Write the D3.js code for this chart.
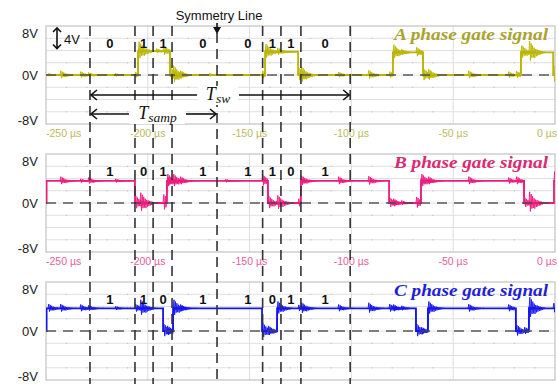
<!DOCTYPE html>
<html><head><meta charset="utf-8">
<script src="https://cdn.jsdelivr.net/npm/d3@7"></script>
<style>body{margin:0;background:#fff}svg{display:block}</style>
</head><body>
<svg id="chart" width="558" height="384"></svg>
<script>
// Time axis (µs) and voltage axis
const tickValues = [-250, -200, -150, -100, -50, 0];
const tickLabels = ["-250 µs", "-200 µs", "-150 µs", "-100 µs", "-50 µs", "0 µs"];
const voltValues = [8, 0, -8];
const voltLabels = ["8V", "0V", "-8V"];
const phaseNames = ["A phase gate signal", "B phase gate signal", "C phase gate signal"];

// Gate signal levels: [time µs, level V] at each change
const stepsA = [[-250, 0], [-204.8, 3.9], [-189.1, 0], [-142.4, 3.8], [-126.2, 0], [-79.6, 3.7], [-64.8, 0], [-16.7, 3.7], [-0.9, 0]];
const stepsB = [[-250, 0], [-249.7, 3.6], [-206.3, 0], [-190.6, 3.6], [-141.0, 0], [-124.8, 3.6], [-81.5, 0], [-65.8, 3.6], [-15.2, 0], [-0.5, 3.6]];
const stepsC = [[-250, 0], [-249.7, 3.7], [-192.5, 0], [-187.6, 3.7], [-143.9, 0], [-136.5, 3.7], [-68.3, 0], [-62.4, 3.7], [-19.2, 0], [-12.8, 3.7]];

// Switching noise bursts: [time µs, amplitude V]
const burstsA = [[-249.0, 0.4], [-243.1, 1.0], [-233.3, 0.8], [-229.4, 0.6], [-216.1, 0.4], [-206.3, 0.7], [-204.6, 2.2], [-196.0, 0.6], [-192.5, 1.2], [-189.0, 1.6], [-187.6, 2.2], [-184.2, 1.0],
  [-170.0, 0.4], [-143.9, 1.0], [-142.3, 1.8], [-136.5, 0.9], [-126.1, 1.6], [-124.8, 2.0], [-106.6, 0.7], [-91.8, 1.1], [-81.5, 0.8], [-79.5, 1.8], [-75.6, 0.7],
  [-68.3, 1.2], [-65.0, 1.6], [-62.4, 1.4], [-42.7, 1.0], [-23.1, 0.8], [-19.2, 0.9], [-16.6, 1.6], [-12.8, 2.6], [-0.9, 2.2]];
const burstsB = [[-243.1, 1.0], [-233.3, 0.5], [-229.4, 0.8], [-216.1, 0.5], [-206.2, 1.6], [-203.8, 2.4], [-192.5, 2.0], [-190.5, 1.6], [-187.6, 1.6], [-184.2, 1.0],
  [-162.0, 0.4], [-143.9, 1.4], [-140.9, 1.6], [-136.5, 1.8], [-126.2, 1.0], [-124.7, 1.2], [-106.6, 1.0], [-91.8, 1.1], [-81.4, 1.2], [-79.6, 1.0], [-75.6, 0.6],
  [-68.3, 1.4], [-65.7, 1.6], [-62.4, 1.0], [-42.7, 1.0], [-23.1, 0.8], [-19.2, 1.0], [-15.1, 1.2], [-12.8, 2.6], [-0.5, 2.2]];
const burstsC = [[-249.0, 1.0], [-243.1, 1.0], [-233.3, 0.9], [-229.4, 0.7], [-216.1, 0.5], [-206.3, 1.0], [-203.8, 2.0], [-192.4, 1.6], [-190.6, 1.2], [-187.5, 2.0], [-184.2, 0.9],
  [-143.8, 1.8], [-141.0, 1.2], [-136.4, 1.6], [-126.2, 0.8], [-124.8, 1.4], [-106.6, 0.9], [-91.8, 1.3], [-81.5, 1.0], [-79.6, 0.9], [-75.6, 0.6],
  [-68.2, 1.6], [-65.8, 0.9], [-62.3, 1.6], [-42.7, 1.0], [-23.1, 0.9], [-19.1, 1.4], [-15.2, 0.9], [-12.7, 2.6], [-0.9, 1.2]];

// Switching states within each sampling interval
const bitsA = [0, 1, 1, 0, 0, 1, 1, 0];
const bitsB = [1, 0, 1, 1, 1, 1, 0, 1];
const bitsC = [1, 1, 0, 1, 1, 0, 1, 1];
const bitTimes = [-218.6, -202.1, -192.5, -172.9, -150.8, -138.8, -129.7, -112.9];

// Sampling-interval boundaries (µs); index 4 is the symmetry line
const samplingEdges = [-228.4, -206.3, -197.4, -188.1, -166.0, -143.6, -134.6, -124.8, -100.6];

const colors = {
  signal: ["#bab500", "#ef1a7e", "#1414f2"],
  title: ["#aaa330", "#d92a72", "#1f1fd8"],
  tick: ["#bdb960", "#ea5d9c", "#5a5af0"]
};

const panels = [
  {steps: stepsA, bursts: burstsA, bits: bitsA, ticks: true},
  {steps: stepsB, bursts: burstsB, bits: bitsB, ticks: true},
  {steps: stepsC, bursts: burstsC, bits: bitsC, ticks: false}
];

const svg = d3.select("#chart");
const W = 558, H = 384;
const x = d3.scaleLinear().domain([-250, 0]).range([46, 555]);
const panelTops = [26, 154, 282];
const panelH = 98;

// Ringing trace of one noise burst (relative amplitude per sample step)
const ring = [0, 1, -0.75, 0.8, -0.5, 0.6, -0.45, 0.42, -0.5, 0.3, -0.36, 0.26, -0.3, 0.2, -0.24, 0.16, -0.2, 0.12, -0.14, 0.1, -0.08, 0.06, 0];
const ringStep = 0.36;
const ringGain = 0.7;

function levelAt(steps, t) {
  let lv = steps[0][1];
  for (const s of steps) { if (s[0] <= t) lv = s[1]; }
  return lv;
}

const sans = "'Liberation Sans', Arial, sans-serif";
const serif = "'Liberation Serif', 'DejaVu Serif', serif";

const defs = svg.append("defs");

panels.forEach((p, i) => {
  const top = panelTops[i];
  const y = d3.scaleLinear().domain([-8, 8]).range([top + panelH, top]);
  const g = svg.append("g");

  defs.append("clipPath").attr("id", "clip" + i)
    .append("rect").attr("x", x(-250)).attr("y", top).attr("width", x(0) - x(-250)).attr("height", panelH);

  // grid
  g.append("rect").attr("x", x(-250)).attr("y", top).attr("width", x(0) - x(-250)).attr("height", panelH)
    .attr("fill", "#fff");
  g.selectAll(".hg").data(d3.range(-6, 8, 2)).join("line")
    .attr("x1", x(-250)).attr("x2", x(0)).attr("y1", d => y(d)).attr("y2", d => y(d))
    .attr("stroke", "#e0e0e0").attr("stroke-width", 1);
  g.selectAll(".vg").data([-200, -150, -100, -50]).join("line")
    .attr("x1", d => x(d)).attr("x2", d => x(d)).attr("y1", top).attr("y2", top + panelH)
    .attr("stroke", "#dcdcdc").attr("stroke-width", 1);
  const dotPts = [];
  d3.range(-240, 0, 10).filter(t => t % 50 !== 0).forEach(t => {
    [6, 2, -2, -6].forEach(v => dotPts.push([t, v]));
  });
  g.selectAll(".dot").data(dotPts).join("rect")
    .attr("x", d => x(d[0]) - 0.5).attr("y", d => y(d[1]) - 0.5).attr("width", 1.2).attr("height", 1.2)
    .attr("fill", "#c4c4c4");
  g.append("rect").attr("x", x(-250)).attr("y", top).attr("width", x(0) - x(-250)).attr("height", panelH)
    .attr("fill", "none").attr("stroke", "#c2c2c2").attr("stroke-width", 1.2);

  // signal
  const sg = g.append("g").attr("clip-path", "url(#clip" + i + ")");
  const stepData = p.steps.concat([[0, p.steps[p.steps.length - 1][1]]]);
  const line = d3.line().x(d => x(d[0])).y(d => y(d[1]));
  sg.append("path").datum(stepData)
    .attr("d", line.curve(d3.curveStepAfter))
    .attr("fill", "none").attr("stroke", colors.signal[i]).attr("stroke-width", 1.8);
  const burstLine = d3.line().x(d => x(d[0])).y(d => y(d[1]));
  sg.selectAll(".burst").data(p.bursts).join("path")
    .attr("d", b => burstLine(ring.map((r, k) => {
      const t = b[0] + k * ringStep;
      return [t, levelAt(p.steps, t) + b[1] * ringGain * r];
    })))
    .attr("fill", "none").attr("stroke", colors.signal[i]).attr("stroke-width", 0.9);

  // 0V reference
  g.append("line").attr("x1", x(-250)).attr("x2", x(0)).attr("y1", y(0)).attr("y2", y(0))
    .attr("stroke", "#4a4a4a").attr("stroke-width", 1.6).attr("stroke-dasharray", "10,7").attr("opacity", 0.9);

  // voltage labels
  g.selectAll(".vl").data(voltValues).join("text")
    .attr("x", 38).attr("y", d => d === 8 ? y(d) + 7 : d === -8 ? y(d) - 4 : y(d))
    .attr("dy", "0.35em").attr("text-anchor", "end")
    .attr("font-family", sans).attr("font-size", 13).attr("fill", "#222")
    .text((d, k) => voltLabels[k]);

  // time tick labels under the panel
  if (p.ticks) {
    g.selectAll(".tl").data(tickValues).join("text")
      .attr("x", d => d === 0 ? 557 : x(d))
      .attr("y", top + panelH + 9).attr("dy", "0.35em")
      .attr("text-anchor", d => d === -250 ? "start" : d === 0 ? "end" : "middle")
      .attr("font-family", sans).attr("font-size", 10.5).attr("fill", colors.tick[i])
      .text((d, k) => tickLabels[k]);
  }

  // bit labels
  g.selectAll(".bit").data(p.bits).join("text")
    .attr("x", (d, k) => x(bitTimes[k])).attr("y", top + 17).attr("dy", "0.35em")
    .attr("text-anchor", "middle").attr("font-family", sans).attr("font-weight", "bold")
    .attr("font-size", 13).attr("fill", "#111").text(d => d);

  // phase name
  g.append("text").attr("x", 548).attr("y", top + 14)
    .attr("text-anchor", "end").attr("font-family", serif).attr("font-style", "italic").attr("font-weight", "bold")
    .attr("font-size", 16).attr("fill", colors.title[i])
    .attr("textLength", 154).attr("lengthAdjust", "spacingAndGlyphs")
    .text(phaseNames[i]);
});

// sampling boundaries across all panels
svg.selectAll(".edge").data(samplingEdges).join("line")
  .attr("x1", d => x(d)).attr("x2", d => x(d))
  .attr("y1", (d, k) => k === 4 ? 33 : 26).attr("y2", H)
  .attr("stroke", "#333").attr("stroke-width", 1.6).attr("stroke-dasharray", "10,6");

// Symmetry line marker
const xs = x(samplingEdges[4]);
svg.append("text").attr("x", xs + 2).attr("y", 15).attr("dy", "0.35em").attr("text-anchor", "middle")
  .attr("font-family", sans).attr("font-size", 13).attr("fill", "#111").text("Symmetry Line");
svg.append("line").attr("x1", xs).attr("x2", xs).attr("y1", 23).attr("y2", 30).attr("stroke", "#111").attr("stroke-width", 1.6);
svg.append("path").attr("d", `M${xs - 4},27 L${xs + 4},27 L${xs},34 Z`).attr("fill", "#111");

// 4V scale marker
const sy = d3.scaleLinear().domain([-8, 8]).range([panelTops[0] + panelH, panelTops[0]]);
const ax = 57;
svg.append("line").attr("x1", ax).attr("x2", ax).attr("y1", sy(8) + 2).attr("y2", sy(4) - 2).attr("stroke", "#111").attr("stroke-width", 1.6);
svg.append("path").attr("d", `M${ax - 4},${sy(8) + 6} L${ax},${sy(8) + 2} L${ax + 4},${sy(8) + 6}`).attr("fill", "none").attr("stroke", "#111").attr("stroke-width", 1.6);
svg.append("path").attr("d", `M${ax - 4},${sy(4) - 6} L${ax},${sy(4) - 2} L${ax + 4},${sy(4) - 6}`).attr("fill", "none").attr("stroke", "#111").attr("stroke-width", 1.6);
svg.append("text").attr("x", 64).attr("y", (sy(8) + sy(4)) / 2 + 1).attr("dy", "0.35em")
  .attr("font-family", sans).attr("font-size", 13).attr("fill", "#111").text("4V");

// Period arrows with a cleared label box in the middle
function periodArrow(t0, t1, yy, gapL, gapR, main, sub) {
  const x0 = x(t0) + 1, x1 = x(t1);
  svg.append("rect").attr("x", gapL + 1).attr("y", yy - 9).attr("width", gapR - gapL - 2).attr("height", 19)
    .attr("fill", "#fff");
  const g = svg.append("g").attr("stroke", "#111").attr("stroke-width", 1.6).attr("fill", "none");
  g.append("line").attr("x1", x0).attr("x2", gapL).attr("y1", yy).attr("y2", yy);
  g.append("line").attr("x1", gapR).attr("x2", x1 - 1).attr("y1", yy).attr("y2", yy);
  g.append("path").attr("d", `M${x0 + 6},${yy - 5} L${x0},${yy} L${x0 + 6},${yy + 5}`);
  g.append("path").attr("d", `M${x1 - 7},${yy - 5} L${x1 - 1},${yy} L${x1 - 7},${yy + 5}`);
  const t = svg.append("text").attr("x", (gapL + gapR) / 2).attr("y", yy + 5).attr("text-anchor", "middle")
    .attr("font-family", serif).attr("font-style", "italic").attr("font-size", 18).attr("fill", "#111");
  t.append("tspan").text(main);
  t.append("tspan").attr("font-size", 13.5).attr("dy", 3).text(sub);
}
periodArrow(samplingEdges[0], samplingEdges[8], 95, 197, 239, "T", "sw");
periodArrow(samplingEdges[0], samplingEdges[4], 114, 129, 186, "T", "samp");
</script>
</body></html>
